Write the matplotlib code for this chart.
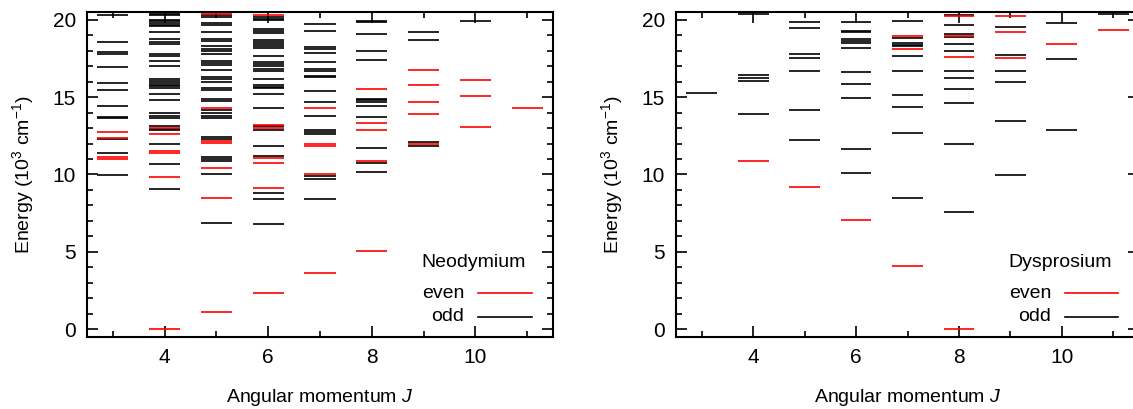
import matplotlib
matplotlib.use("Agg")
import matplotlib.pyplot as plt
from matplotlib.ticker import MultipleLocator

plt.rcParams['font.family'] = ['Liberation Sans', 'DejaVu Sans']
plt.rcParams['mathtext.fontset'] = 'custom'
plt.rcParams['mathtext.rm'] = 'Liberation Sans'
plt.rcParams['mathtext.it'] = 'Liberation Sans:italic'

# energy levels (10^3 cm^-1) per angular momentum J
nd_even = {
    3: [12.75, 12.36, 11.14, 11.03],
    4: [13.02, 12.62, 11.52, 11.42, 9.81, 0.0],
    5: [20.39, 14.31, 12.17, 12.06, 10.39, 8.48, 1.12],
    6: [20.28, 13.22, 13.0, 11.09, 10.77, 9.11, 2.37],
    7: [14.29, 11.94, 11.85, 10.02, 3.66],
    8: [15.52, 13.30, 12.89, 10.85, 5.06],
    9: [16.77, 15.8, 14.66, 13.92, 11.98],
    10: [16.08, 15.04, 13.08],
    11: [14.27],
}
nd_odd = {
    3: [20.28, 18.56, 17.94, 17.79, 16.97, 15.90, 15.47, 14.42, 13.72, 13.66,
        12.27, 11.37, 9.94],
    4: [20.39, 20.28, 20.0, 19.91, 19.79, 19.68, 19.57, 19.2, 18.73, 18.56,
        18.43, 17.79, 17.66, 17.32, 17.04, 16.2, 16.07, 15.94, 15.79, 15.69,
        15.58, 15.21, 14.81, 13.97, 13.80, 13.65, 13.11, 12.95, 12.85, 11.99,
        10.69, 9.08],
    5: [20.28, 20.17, 19.79, 19.68, 19.2, 18.73, 18.63, 18.28, 18.13, 18.0,
        17.79, 17.36, 17.21, 17.06, 16.78, 16.27, 16.14, 16.0, 15.62, 15.49,
        14.85, 14.72, 14.14, 13.97, 13.80, 13.65, 12.45, 12.30, 11.16, 11.03,
        10.90, 10.02, 6.87],
    6: [20.17, 20.04, 19.97, 19.4, 19.3, 19.16, 18.71, 18.58, 18.45, 18.28,
        18.18, 17.68, 17.25, 17.12, 17.0, 16.82, 16.67, 16.14, 15.77, 15.66,
        15.56, 15.21, 14.31, 13.13, 12.85, 11.82, 11.2, 8.83, 8.42, 6.77],
    7: [19.74, 19.25, 18.23, 18.13, 17.82, 17.28, 16.81, 16.72, 16.34, 16.27,
        15.37, 14.68, 13.75, 12.89, 12.72, 12.61, 9.93, 9.70, 8.40],
    8: [19.91, 19.85, 19.09, 17.95, 17.41, 14.91, 14.81, 14.70, 14.44, 13.69,
        11.68, 10.75, 10.17],
    9: [19.2, 18.71, 12.13, 11.87],
    10: [19.91],
    11: [],
}
dy_even = {
    3: [], 4: [10.90], 5: [9.20], 6: [7.07],
    7: [18.92, 18.09, 4.09],
    8: [20.22, 18.97, 17.59, 0.0],
    9: [20.22, 19.23, 17.51],
    10: [18.45],
    11: [19.33],
}
dy_odd = {
    3: [15.25],
    4: [20.39, 16.41, 16.22, 16.04, 13.94],
    5: [19.83, 19.48, 17.81, 17.51, 16.67, 14.15, 12.26],
    6: [19.85, 19.29, 19.2, 18.73, 18.6, 18.52, 18.15, 16.6, 15.85, 14.97,
        11.66, 10.09],
    7: [19.89, 18.82, 18.5, 18.4, 18.3, 17.68, 16.69, 15.16, 14.34, 12.65, 8.51],
    8: [20.32, 19.68, 19.08, 18.86, 18.45, 18.0, 16.71, 16.26, 15.55, 14.6,
        11.98, 7.58],
    9: [19.55, 17.72, 16.71, 15.96, 13.48, 9.98],
    10: [19.78, 17.48, 12.88],
    11: [20.39],
}

fig = plt.figure(figsize=(11.33, 4.09), dpi=100)
ax1 = fig.add_axes([87 / 1133, 72 / 409, 466 / 1133, 325 / 409])
ax2 = fig.add_axes([676 / 1133, 72 / 409, 463 / 1133, 325 / 409])


def draw_panel(ax, even, odd, name):
    half = 0.3
    for J, levels in odd.items():
        if levels:
            ax.hlines(levels, J - half, J + half, color='black', lw=1.2)
    for J, levels in even.items():
        if levels:
            ax.hlines(levels, J - half, J + half, color='red', lw=1.2)

    ax.set_xlim(2.5, 11.5)
    ax.set_ylim(-0.5, 20.5)
    ax.xaxis.set_major_locator(MultipleLocator(2))
    ax.xaxis.set_minor_locator(MultipleLocator(1))
    ax.yaxis.set_major_locator(MultipleLocator(5))
    ax.yaxis.set_minor_locator(MultipleLocator(1))
    ax.tick_params(which='both', direction='in', top=True, right=True,
                   labelsize=15, width=1.2)
    ax.tick_params(which='major', length=8, pad=8)
    ax.tick_params(which='minor', length=4)
    for sp in ax.spines.values():
        sp.set_linewidth(1.5)

    ax.set_xlabel('Angular momentum $J$', fontsize=14, labelpad=14)
    ax.set_ylabel('Energy (10$^3$ cm$^{-1}$)', fontsize=14, labelpad=12)

    # gnuplot-style key
    ax.text(0.83, 0.23, name, transform=ax.transAxes, ha='center',
            va='center', fontsize=14)
    ax.text(0.81, 0.135, 'even', transform=ax.transAxes, ha='right',
            va='center', fontsize=14)
    ax.text(0.81, 0.062, 'odd', transform=ax.transAxes, ha='right',
            va='center', fontsize=14)
    ax.plot([0.84, 0.955], [0.135, 0.135], color='red', lw=1.2,
            transform=ax.transAxes)
    ax.plot([0.84, 0.955], [0.062, 0.062], color='black', lw=1.2,
            transform=ax.transAxes)


draw_panel(ax1, nd_even, nd_odd, 'Neodymium')
draw_panel(ax2, dy_even, dy_odd, 'Dysprosium')

fig.savefig('out.png', dpi=100)
